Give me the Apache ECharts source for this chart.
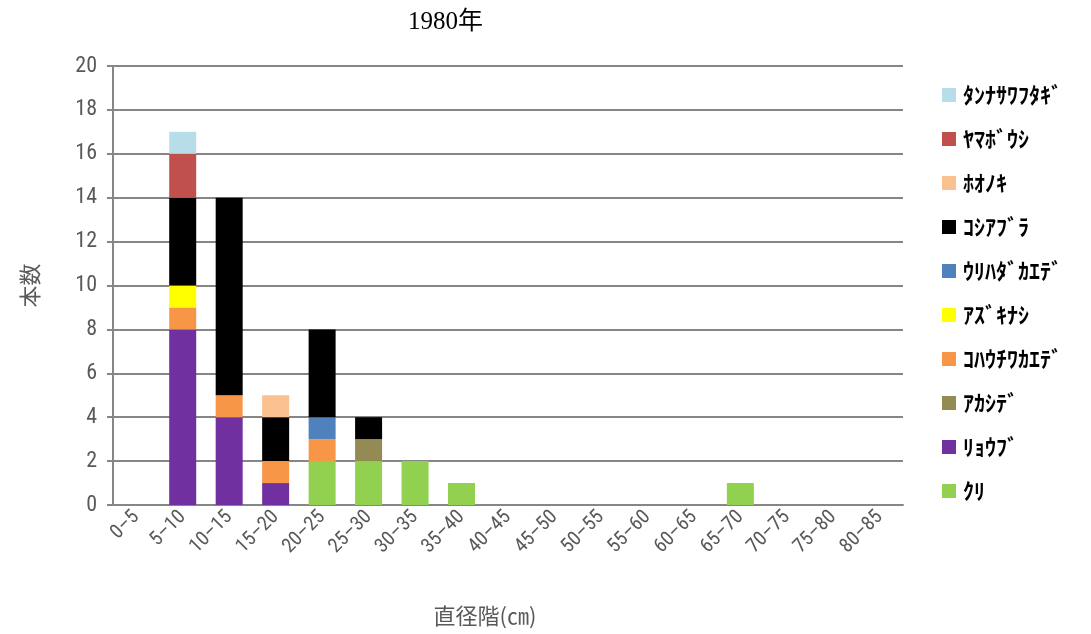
<!DOCTYPE html>
<html lang="ja">
  <head>
    <meta charset="UTF-8" />
    <title>1980年</title>
    <style>
      body, html {
        margin: 0;
        width: 100%;
        height: 100%;
        background: #fff;
      }
    </style>
  </head>
  <body>
    <div id="main" style="width:1091px;height:634px;"></div>

    <script src="https://cdnjs.cloudflare.com/ajax/libs/echarts/6.0.0/echarts.min.js"></script>
    <script>
      // 直径階
      const classes = [
        '0–5', '5–10', '10–15', '15–20', '20–25', '25–30', '30–35', '35–40', '40–45',
        '45–50', '50–55', '55–60', '60–65', '65–70', '70–75', '75–80', '80–85',
      ];
      const yTicks = [0, 2, 4, 6, 8, 10, 12, 14, 16, 18, 20];

      // 樹種ごとの本数 (積み上げ順: 下から)
      const kuri = [0, 0, 0, 0, 2, 2, 2, 1, 0, 0, 0, 0, 0, 1, 0, 0, 0];
      const ryoubu = [0, 8, 4, 1, 0, 0, 0, 0, 0, 0, 0, 0, 0, 0, 0, 0, 0];
      const akashide = [0, 0, 0, 0, 0, 1, 0, 0, 0, 0, 0, 0, 0, 0, 0, 0, 0];
      const kohauchiwakaede = [0, 1, 1, 1, 1, 0, 0, 0, 0, 0, 0, 0, 0, 0, 0, 0, 0];
      const azukinashi = [0, 1, 0, 0, 0, 0, 0, 0, 0, 0, 0, 0, 0, 0, 0, 0, 0];
      const urihadakaede = [0, 0, 0, 0, 1, 0, 0, 0, 0, 0, 0, 0, 0, 0, 0, 0, 0];
      const koshiabura = [0, 4, 9, 2, 4, 1, 0, 0, 0, 0, 0, 0, 0, 0, 0, 0, 0];
      const hounoki = [0, 0, 0, 1, 0, 0, 0, 0, 0, 0, 0, 0, 0, 0, 0, 0, 0];
      const yamaboushi = [0, 2, 0, 0, 0, 0, 0, 0, 0, 0, 0, 0, 0, 0, 0, 0, 0];
      const tannasawafutagi = [0, 1, 0, 0, 0, 0, 0, 0, 0, 0, 0, 0, 0, 0, 0, 0, 0];

      const speciesNames = [
        'ｸﾘ', 'ﾘｮｳﾌﾞ', 'ｱｶｼﾃﾞ', 'ｺﾊｳﾁﾜｶｴﾃﾞ', 'ｱｽﾞｷﾅｼ',
        'ｳﾘﾊﾀﾞｶｴﾃﾞ', 'ｺｼｱﾌﾞﾗ', 'ﾎｵﾉｷ', 'ﾔﾏﾎﾞｳｼ', 'ﾀﾝﾅｻﾜﾌﾀｷﾞ',
      ];
      const speciesValues = [
        kuri, ryoubu, akashide, kohauchiwakaede, azukinashi,
        urihadakaede, koshiabura, hounoki, yamaboushi, tannasawafutagi,
      ];
      const speciesColors = [
        '#92d050', '#7030a0', '#948a54', '#f79646', '#ffff00',
        '#4f81bd', '#000000', '#fac090', '#c0504d', '#b7dde8',
      ];

      const axisGray = '#868686';
      const labelGray = '#595959';
      const jpFont = '"Noto Sans CJK JP", "Noto Sans", sans-serif';
      const narrowFont = '"Liberation Sans Narrow", "Roboto Condensed", "Noto Sans", sans-serif';

      const myChart = echarts.init(document.getElementById('main'));

      const option = {
        animation: false,
        title: {
          text: '1980年',
          left: 403,
          top: 5,
          textStyle: {
            fontFamily: '"Liberation Serif", "Noto Sans CJK JP", serif',
            fontSize: 25,
            fontWeight: 'normal',
            color: '#000',
          },
        },
        legend: {
          orient: 'vertical',
          left: 937,
          top: 79,
          itemWidth: 14,
          itemHeight: 14,
          itemGap: 22,
          icon: 'rect',
          data: speciesNames.slice().reverse(),
          textStyle: {
            fontFamily: jpFont,
            fontSize: 22,
            fontWeight: 'bold',
            color: '#000',
            padding: [0, 0, 0, 2],
          },
        },
        grid: {
          left: 113,
          right: 188,
          top: 66,
          bottom: 129,
        },
        xAxis: {
          type: 'category',
          data: classes,
          name: '直径階(㎝)',
          nameLocation: 'middle',
          nameGap: 100,
          nameTextStyle: {
            fontFamily: jpFont,
            fontSize: 22,
            color: labelGray,
            padding: [0, 46, 0, 0],
          },
          axisLine: { lineStyle: { color: axisGray, width: 2 } },
          axisTick: { alignWithLabel: true, length: 5, lineStyle: { color: axisGray, width: 2 } },
          axisLabel: {
            rotate: 45,
            interval: 0,
            fontFamily: narrowFont,
            fontSize: 20,
            color: labelGray,
            margin: 9,
          },
        },
        yAxis: {
          type: 'value',
          min: yTicks[0],
          max: yTicks[yTicks.length - 1],
          interval: yTicks[1] - yTicks[0],
          name: '本数',
          nameLocation: 'middle',
          nameRotate: 90,
          nameGap: 72,
          nameTextStyle: {
            fontFamily: jpFont,
            fontSize: 22,
            color: labelGray,
          },
          axisLine: { show: true, lineStyle: { color: axisGray, width: 2 } },
          axisTick: { show: true, inside: false, length: 6, lineStyle: { color: axisGray, width: 2 } },
          axisLabel: {
            fontFamily: narrowFont,
            fontSize: 22,
            color: labelGray,
            margin: 16,
          },
          splitLine: { lineStyle: { color: axisGray, width: 2 } },
        },
        series: speciesNames.map((name, i) => ({
          name,
          type: 'bar',
          stack: 'total',
          barWidth: 27,
          data: speciesValues[i],
          itemStyle: { color: speciesColors[i] },
        })),
      };

      myChart.setOption(option);
    </script>
  </body>
</html>
